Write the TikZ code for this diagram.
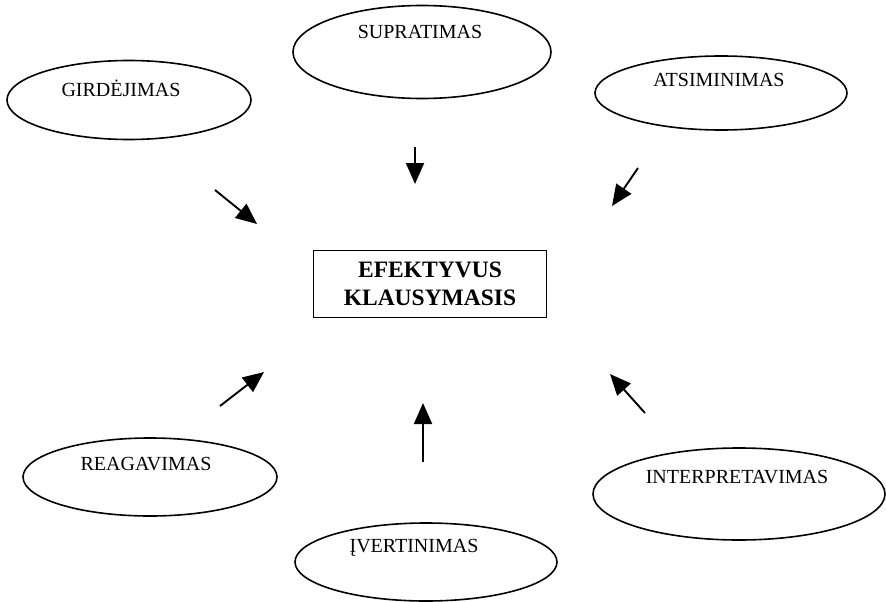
\documentclass[tikz,border=0pt]{standalone}
\usepackage{fontspec}
\setmainfont{Liberation Serif}
\usetikzlibrary{shapes.geometric,arrows.meta}

\tikzset{
	oval/.style={draw,ellipse,line width=1.6pt,inner sep=0pt},
	lbl/.style={font=\fontsize{20}{22}\selectfont,inner sep=0pt},
	pointer/.style={-{Triangle[length=21pt,width=18pt]},line width=1.9pt}
}

\begin{document}
\begin{tikzpicture}[x=1pt,y=-1pt]
		\useasboundingbox (0,0) rectangle (886,602);
		
		% the six stages
		\node[oval,minimum width=244pt,minimum height=79pt] (gird) at (129,100) {};
		\node[oval,minimum width=258pt,minimum height=93pt] (supr) at (422,52) {};
		\node[oval,minimum width=252pt,minimum height=74pt] (atsi) at (721,93) {};
		\node[oval,minimum width=254pt,minimum height=78pt] (reag) at (150,477) {};
		\node[oval,minimum width=292pt,minimum height=92pt] (inte) at (739,494) {};
		\node[oval,minimum width=262pt,minimum height=78pt] (iver) at (426,562) {};
		
		\node[lbl] (girdtxt) at (121,88) {GIRDĖJIMAS};
		\node[lbl] (suprtxt) at (420,32) {SUPRATIMAS};
		\node[lbl] (atsitxt) at (719,80) {ATSIMINIMAS};
		\node[lbl] (reagtxt) at (146,464) {REAGAVIMAS};
		\node[lbl] (intetxt) at (737,477) {INTERPRETAVIMAS};
		\node[lbl] (ivertxt) at (414,548) {ĮVERTINIMAS};
		
		% centre
		\node[draw,line width=1.9pt,minimum width=233pt,minimum height=67pt,align=center,
			font=\bfseries\fontsize{23.5}{28}\selectfont] (efek) at (430,284) {EFEKTYVUS\\KLAUSYMASIS};
		
		% arrow ends
		\coordinate (g1) at (215,190);  \coordinate (g2) at (257,224);
		\coordinate (s1) at (415,147);  \coordinate (s2) at (415,184);
		\coordinate (a1) at (638,168);  \coordinate (a2) at (612,206);
		\coordinate (r1) at (220,406);  \coordinate (r2) at (264,372);
		\coordinate (v1) at (423,462);  \coordinate (v2) at (423,403);
		\coordinate (i1) at (645,413);  \coordinate (i2) at (610,374);
		
		\draw[pointer] (g1) -- (g2);
		\draw[pointer] (s1) -- (s2);
		\draw[pointer] (a1) -- (a2);
		\draw[pointer] (r1) -- (r2);
		\draw[pointer] (v1) -- (v2);
		\draw[pointer] (i1) -- (i2);
\end{tikzpicture}
\end{document}
